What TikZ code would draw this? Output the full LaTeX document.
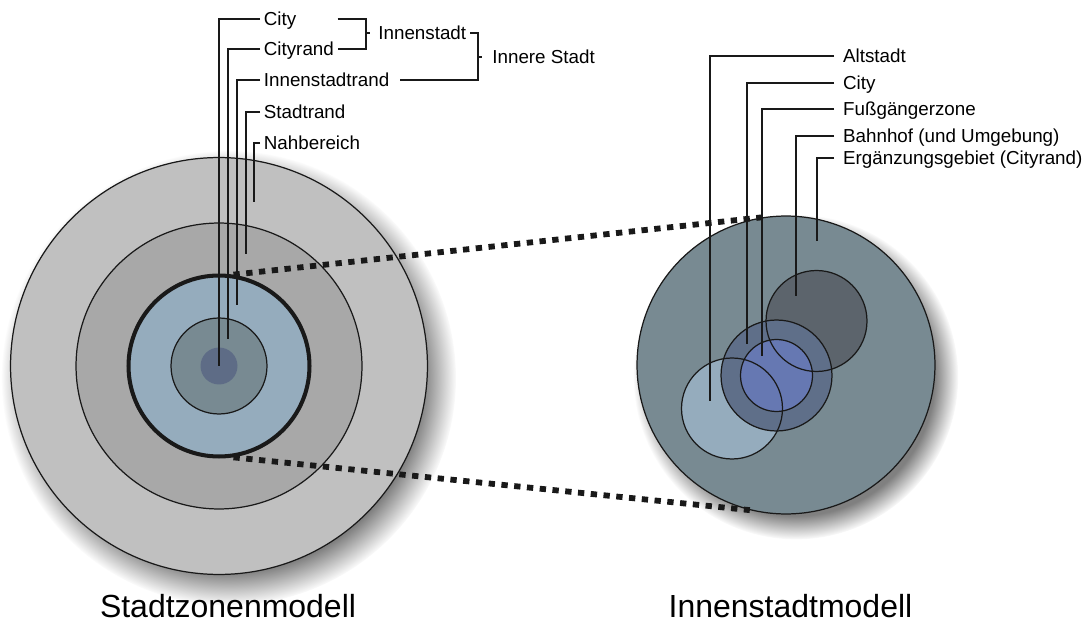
\documentclass[tikz,border=0pt]{standalone}
\usepackage{fontspec}
\setmainfont{Liberation Sans}
\usetikzlibrary{shadows}

\definecolor{nahgrau}{HTML}{C0C0C0}
\definecolor{randgrau}{HTML}{A8A8A8}
\definecolor{innenblau}{HTML}{95ACBD}
\definecolor{citygrau}{HTML}{788A92}
\definecolor{kernblau}{HTML}{5E6C86}
\definecolor{bahnhofgrau}{HTML}{5C646C}
\definecolor{cityblau}{HTML}{5F6F89}
\definecolor{fussblau}{HTML}{6678B2}

\tikzset{
  zone/.style={circle, inner sep=0pt, minimum size=#1},
  ring/.style={zone=#1, draw=black!90, line width=0.7pt},
  leader/.style={draw=black!90, line width=0.7pt},
  dotline/.style={draw=black!90, line width=3.3pt, dash pattern=on 3.6pt off 3.7pt},
  zlabel/.style={anchor=west, inner sep=2pt, text height=7.7pt, text depth=0pt,
    font=\fontsize{10.7}{13}\selectfont},
  rlabel/.style={zlabel, inner xsep=5pt},
  title/.style={anchor=base, inner sep=1pt, font=\fontsize{18.2}{22}\selectfont},
  schatten/.style={circular drop shadow={shadow xshift=0.18cm, shadow yshift=-0.22cm, shadow scale=1.09}}
}

\begin{document}
\begin{tikzpicture}[x=0.02cm, y=-0.02cm]
    \useasboundingbox (0,0) rectangle (1088,624);
    % Stadtzonenmodell
    \node[ring=8.34cm, fill=nahgrau, schatten] (sNah) at (219,366) {};
    \node[ring=5.72cm, fill=randgrau] (sStadtrand) at (219,366) {};
    \node[zone=3.62cm, fill=innenblau, draw=black!90, line width=2.3pt] (sInnen) at (219,366) {};
    \node[ring=1.92cm, fill=citygrau] (sCityrand) at (219,366) {};
    \node[zone=0.74cm, fill=kernblau] (sCity) at (219,366) {};
    % Innenstadtmodell
    \node[ring=5.96cm, fill=citygrau, schatten] (iGebiet) at (786,365) {};
    \node[zone=2.02cm, fill=bahnhofgrau] (iBahnhof) at (816.5,321) {};
    \node[zone=2.02cm, fill=innenblau] (iAltstadt) at (732,408.5) {};
    \node[zone=2.22cm, fill=cityblau] (iCity) at (776.5,375.5) {};
    \node[zone=1.44cm, fill=fussblau] (iFuss) at (776.5,375.5) {};
    \foreach \n/\d in {iBahnhof/2.02cm, iAltstadt/2.02cm, iCity/2.22cm, iFuss/1.44cm}
        \node[ring=\d] at (\n) {};

    \draw[dotline] (sInnen.81) -- (iGebiet.99);
    \draw[dotline] (sInnen.279) -- (iGebiet.256);

    % Zonen links
    \foreach \n/\y in {City/19, Cityrand/49, Innenstadtrand/80, Stadtrand/112, Nahbereich/143}
        \node[zlabel] (l\n) at (260,\y) {\n};
    \coordinate (eCity) at (sCity.center);
    \coordinate (eCityrand) at (228,339);
    \coordinate (eInnenstadtrand) at (237,305);
    \coordinate (eStadtrand) at (246,254);
    \coordinate (eNahbereich) at (254,202);
    \foreach \n in {City, Cityrand, Innenstadtrand, Stadtrand, Nahbereich}
        \draw[leader] (l\n.west) -| (e\n);

    \node[zlabel] (lInnenstadt) at (374.5,33) {Innenstadt};
    \node[zlabel] (lInnere) at (488.5,57) {Innere Stadt};
    \coordinate (kInnenstadt) at (366,33);
    \coordinate (kInnere) at (478,57);
    \draw[leader] (lCityrand.east |- lCity.west) -| (kInnenstadt) |- (lCityrand.east);
    \draw[leader] (kInnenstadt) -- ++(4,0);
    \draw[leader] (lInnenstadt.east) -| (kInnere) |- ([xshift=0.14cm]lInnenstadtrand.east);
    \draw[leader] (kInnere) -- ++(4,0);

    % Zonen rechts
    \node[rlabel] (lAltstadt) at (834,56) {Altstadt};
    \node[rlabel] (lICity) at (834,83) {City};
    \node[rlabel] (lFuss) at (834,109) {Fußgängerzone};
    \node[rlabel] (lBahnhof) at (834,136) {Bahnhof (und Umgebung)};
    \node[rlabel] (lErgaenzung) at (834,158) {Ergänzungsgebiet (Cityrand)};
    \coordinate (eAltstadt) at (710,401);
    \coordinate (eICity) at (747,344);
    \coordinate (eFuss) at (762,356);
    \coordinate (eBahnhof) at (796,296);
    \coordinate (eErgaenzung) at (817,241);
    \foreach \n in {Altstadt, ICity, Fuss, Bahnhof, Ergaenzung}
        \draw[leader] (l\n.west) -| (e\n);

    \node[title] (tStadtzonen) at (228,617) {Stadtzonenmodell};
    \node[title] (tInnenstadt) at (790.5,617) {Innenstadtmodell};
\end{tikzpicture}
\end{document}
